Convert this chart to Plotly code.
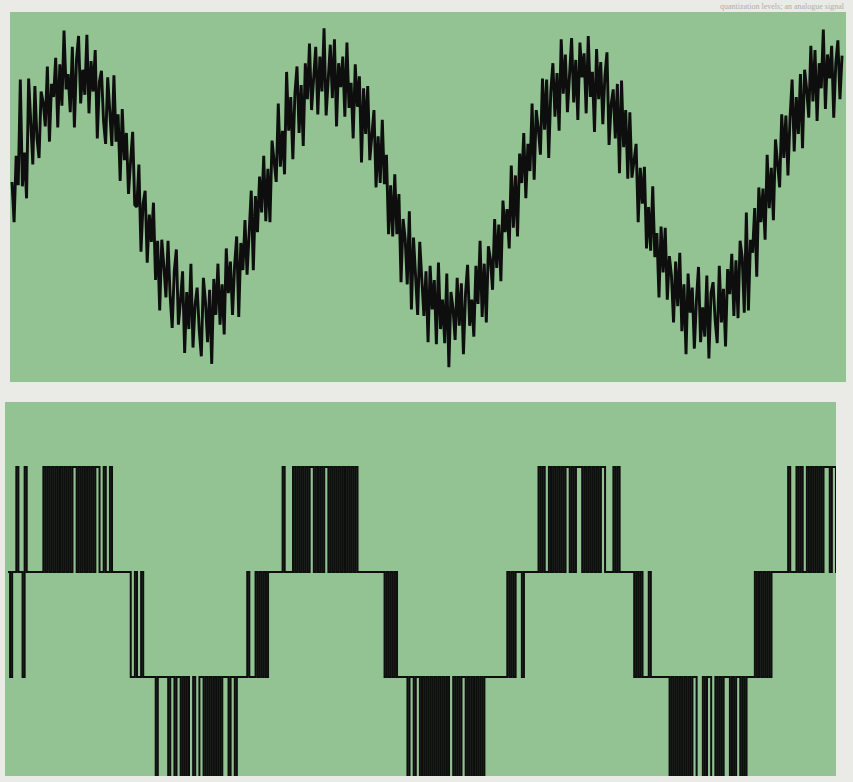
import plotly.graph_objects as go

# Noisy analogue input, in units of quantization steps (levels 0..3)
signal = [
    1.62, 1.25, 1.86, 1.59, 2.56, 1.58, 1.89, 1.47, 2.57, 2.15, 1.78, 2.50, 2.02, 1.84, 2.45, 2.35, 2.13, 2.68, 1.99, 2.52,
    2.40, 2.76, 2.12, 2.70, 2.32, 3.01, 2.47, 2.61, 2.26, 2.86, 2.12, 2.74, 2.96, 2.34, 2.65, 2.42, 2.97, 2.25, 2.73, 2.45,
    2.83, 2.02, 2.54, 2.64, 2.18, 1.97, 2.58, 2.27, 1.95, 2.60, 1.99, 2.24, 1.63, 2.29, 1.82, 2.07, 1.51, 1.81, 2.08, 1.41,
    1.39, 1.78, 0.98, 1.42, 1.54, 0.88, 1.32, 1.07, 1.43, 0.72, 1.08, 0.44, 1.09, 0.85, 0.56, 1.08, 0.58, 0.28, 0.80, 1.00,
    0.31, 0.53, 0.80, 0.05, 0.61, 0.27, 0.87, 0.10, 0.49, 0.65, 0.26, 0.02, 0.74, 0.52, 0.15, 0.63, -0.05, 0.73, 0.40, 0.87,
    0.31, 0.68, 0.22, 1.01, 0.60, 0.89, 0.40, 0.85, 1.12, 0.38, 1.06, 0.81, 1.27, 0.77, 1.15, 1.54, 0.81, 1.49, 1.16, 1.67,
    1.34, 1.86, 1.26, 1.74, 1.25, 2.00, 1.81, 1.62, 2.34, 1.76, 2.09, 1.69, 2.63, 2.09, 2.40, 1.83, 2.43, 2.68, 2.07, 2.51,
    1.95, 2.71, 2.38, 2.89, 2.28, 2.61, 2.86, 2.24, 2.77, 2.45, 3.03, 2.23, 2.62, 2.88, 2.39, 2.93, 2.13, 2.71, 2.49, 2.77,
    2.22, 2.90, 2.30, 2.53, 2.02, 2.70, 2.31, 2.59, 1.80, 2.48, 2.06, 2.50, 1.82, 2.07, 2.28, 1.57, 2.04, 1.61, 2.19, 1.60,
    1.87, 1.14, 1.59, 1.12, 1.69, 1.14, 1.51, 0.70, 1.28, 1.10, 0.68, 1.35, 0.45, 1.11, 0.78, 0.40, 1.07, 0.78, 0.39, 0.80,
    0.15, 0.85, 0.45, 0.72, 0.13, 0.88, 0.27, 0.54, 0.14, 0.78, -0.08, 0.61, 0.46, 0.17, 0.74, 0.30, 0.69, 0.04, 0.59, 0.86,
    0.30, 0.54, 0.20, 0.85, 0.50, 1.08, 0.38, 0.87, 0.33, 1.03, 0.91, 0.63, 1.28, 0.83, 1.23, 0.71, 1.45, 1.16, 1.37, 1.01,
    1.77, 1.20, 1.68, 1.12, 1.88, 1.61, 2.07, 1.47, 1.97, 1.72, 2.34, 1.64, 2.28, 2.11, 1.87, 2.57, 2.10, 2.56, 1.84, 2.45,
    2.71, 2.22, 2.62, 2.09, 2.93, 2.43, 2.79, 2.26, 2.64, 2.94, 2.35, 2.74, 2.19, 2.90, 2.58, 2.80, 2.25, 2.96, 2.40, 2.63,
    2.08, 2.84, 2.38, 2.72, 2.15, 2.59, 2.81, 1.96, 2.33, 2.47, 2.02, 2.52, 1.70, 2.55, 1.94, 2.28, 1.65, 2.26, 1.66, 1.81,
    1.97, 1.25, 1.75, 1.42, 1.76, 1.01, 1.39, 0.99, 1.58, 0.93, 1.15, 0.56, 1.21, 0.79, 1.20, 0.54, 0.94, 0.76, 0.33, 0.89,
    0.48, 0.97, 0.25, 0.68, 0.04, 0.78, 0.42, 0.65, 0.09, 0.53, 0.84, 0.15, 0.47, 0.20, 0.76, 0.00, 0.60, 0.70, 0.35, 0.14,
    0.85, 0.33, 0.64, 0.11, 0.82, 0.59, 0.96, 0.39, 0.90, 0.37, 1.08, 0.93, 0.42, 1.34, 0.44, 1.09, 0.97, 1.38, 0.75, 1.57,
    1.25, 1.56, 1.09, 1.87, 1.38, 1.75, 1.27, 2.01, 1.80, 1.57, 2.24, 1.84, 2.23, 1.68, 2.21, 2.56, 1.90, 2.40, 2.06, 2.61,
    1.93, 2.65, 2.47, 2.21, 2.87, 2.36, 2.83, 2.18, 2.71, 2.48, 3.02, 2.29, 2.79, 2.57, 2.87, 2.21, 2.71, 2.92, 2.38, 2.78,
]

# Available quantization levels
levels = [0, 1, 2, 3]

# Running text of the page above the panels
page_text = "quantization levels; an analogue signal"

sample = list(range(len(signal)))

# Each sample snapped to the nearest available level
quantized = [min(levels[-1], max(levels[0], round(v))) for v in signal]

W, H = 853, 782
GREEN = "rgb(147,195,146)"
PAPER = "rgb(234,234,231)"
INK = "rgb(14,14,14)"

fig = go.Figure()

fig.add_trace(go.Scatter(
    x=sample, y=signal, mode="lines",
    line=dict(color=INK, width=2.9),
    xaxis="x", yaxis="y", hoverinfo="skip",
))

fig.add_trace(go.Scatter(
    x=sample, y=quantized, mode="lines",
    line=dict(color=INK, width=2.0, shape="hv"),
    xaxis="x2", yaxis="y2", hoverinfo="skip",
))

hidden = dict(showgrid=False, zeroline=False, showticklabels=False,
              ticks="", showline=False, fixedrange=True)

fig.update_layout(
    width=W, height=H,
    margin=dict(l=0, r=0, t=0, b=0),
    paper_bgcolor=PAPER,
    plot_bgcolor=GREEN,
    showlegend=False,
    xaxis=dict(domain=[10 / W, 846 / W], range=[-0.96, 400.9], **hidden),
    yaxis=dict(domain=[1 - 382 / H, 1 - 12 / H], range=[-0.216, 3.18], **hidden),
    xaxis2=dict(domain=[5 / W, 836 / W], range=[-1.44, 398.0], anchor="y2", **hidden),
    yaxis2=dict(domain=[1 - 776 / H, 1 - 402 / H], range=[0.057, 3.619], anchor="x2", **hidden),
    annotations=[dict(
        text=page_text, xref="paper", yref="paper",
        x=846 / W, y=1 - 1 / H, xanchor="right", yanchor="top",
        showarrow=False, borderpad=0,
        font=dict(family="Liberation Serif", size=8, color="rgb(175,175,173)"),
    )],
)

fig.write_html("out.html")
